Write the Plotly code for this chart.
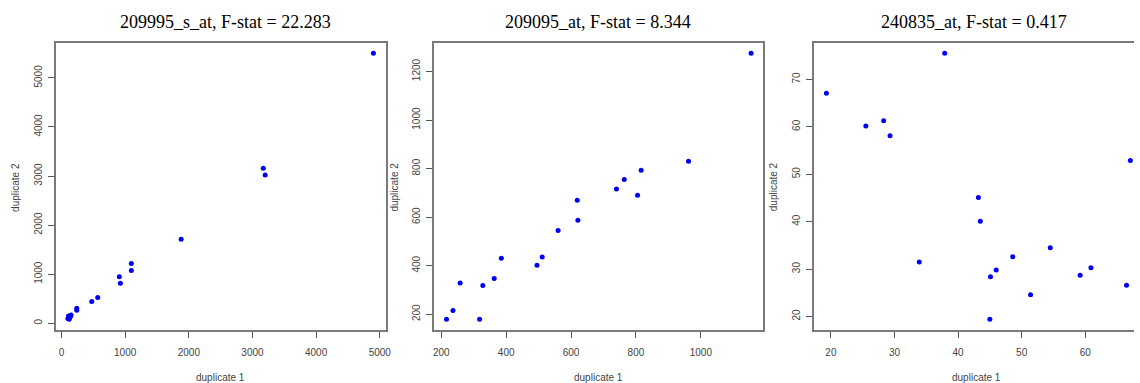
import plotly.graph_objects as go

W, H = 1140, 383

# ---------------- data ----------------
titles = ["209995_s_at, F-stat = 22.283", "209095_at, F-stat = 8.344", "240835_at, F-stat = 0.417"]

p1_x = [4900, 3170, 3200, 1880, 1097, 1097, 909, 925, 569, 475, 240, 240, 100, 130, 150, 110, 120, 140]
p1_y = [5500, 3160, 3020, 1710, 1217, 1075, 947, 818, 527, 446, 304, 265, 100, 120, 170, 150, 80, 140]

p2_x = [1155, 962, 816, 764, 740, 805, 619, 621, 560, 511, 495, 385, 363, 328, 258, 236, 216, 318]
p2_y = [1275, 830, 793, 755, 716, 690, 670, 587, 545, 436, 402, 431, 347, 319, 329, 215, 179, 179]

p3_x = [37.9, 19.3, 25.5, 28.3, 29.3, 67.1, 43.2, 43.5, 33.9, 54.5, 48.6, 46.0, 45.1, 60.9, 59.2, 51.4, 66.5, 45.0]
p3_y = [75.5, 67.1, 60.2, 61.3, 58.1, 52.9, 45.1, 40.1, 31.5, 34.5, 32.6, 29.8, 28.4, 30.3, 28.7, 24.6, 26.6, 19.4]

x_ticks = [[0, 1000, 2000, 3000, 4000, 5000], [200, 400, 600, 800, 1000], [20, 30, 40, 50, 60]]
y_ticks = [[0, 1000, 2000, 3000, 4000, 5000], [200, 400, 600, 800, 1000, 1200], [20, 30, 40, 50, 60, 70]]
x_label = "duplicate 1"
y_label = "duplicate 2"

# ---------------- layout (pixel boxes) ----------------
# (left, right, right_full) in px ; right_full = where the box would end if not cropped
boxes = [(55, 387, 387), (436, 767, 767), (818.3, 1140, 1148.6)]
top_px, bot_px = 42.7, 330
title_cx = [226, 601, 979]
xt_cx = [221, 601, 982]
yt_x = [14, 395, 777]

def rng(vals):
    lo, hi = min(vals), max(vals)
    pad = (hi - lo) * 0.04
    return lo - pad, hi + pad

fig = go.Figure()
series = [(p1_x, p1_y), (p2_x, p2_y), (p3_x, p3_y)]
axis_color = "#7a7a7a"
txt_color = "#444444"
tick_font = dict(family="Liberation Sans, Arial, sans-serif", size=10, color=txt_color)

annotations = []
for i, (xs, ys) in enumerate(series):
    n = "" if i == 0 else str(i + 1)
    fig.add_trace(go.Scatter(x=xs, y=ys, mode="markers", xaxis="x" + n, yaxis="y" + n,
                             marker=dict(color="#0000F0", size=5, line=dict(width=0)),
                             cliponaxis=False, showlegend=False, hoverinfo="skip"))
    left, right, right_full = boxes[i]
    xlo, xhi = rng(xs)
    # visible part of x range (panel may be cropped at the right edge)
    xhi_vis = xlo + (xhi - xlo) * (right - left) / (right_full - left)
    ylo, yhi = rng(ys)
    fig.layout["xaxis" + n] = dict(
        domain=[left / W, right / W], anchor="y" + n, range=[xlo, xhi_vis],
        tickmode="array", tickvals=x_ticks[i], showgrid=False, zeroline=False,
        showline=True, linecolor=axis_color, linewidth=2, mirror=True,
        ticks="outside", ticklen=6, tickwidth=1, tickcolor="#555555",
        tickfont=tick_font, ticklabelstandoff=6)
    fig.layout["yaxis" + n] = dict(
        domain=[(H - bot_px) / H, (H - top_px) / H], anchor="x" + n, range=[ylo, yhi],
        tickmode="array", tickvals=y_ticks[i], showgrid=False, zeroline=False,
        showline=True, linecolor=axis_color, linewidth=2, mirror=(i < 2),
        ticks="outside", ticklen=6, tickwidth=1, tickcolor="#555555",
        tickfont=tick_font, tickangle=-90, ticklabelstandoff=2)
    annotations.append(dict(text=titles[i], x=title_cx[i] / W, y=(H - 22) / H, xref="paper", yref="paper",
                            showarrow=False, xanchor="center", yanchor="middle",
                            font=dict(family="Liberation Serif, Times New Roman, serif", size=18, color="black")))
    annotations.append(dict(text=x_label, x=xt_cx[i] / W, y=(H - 377) / H, xref="paper", yref="paper",
                            showarrow=False, xanchor="center", yanchor="middle",
                            font=dict(family="Liberation Sans, Arial, sans-serif", size=10, color=txt_color)))
    annotations.append(dict(text=y_label, x=yt_x[i] / W, y=(H - 187) / H, xref="paper", yref="paper",
                            showarrow=False, xanchor="center", yanchor="middle", textangle=-90,
                            font=dict(family="Liberation Sans, Arial, sans-serif", size=10, color=txt_color)))

fig.update_layout(width=W, height=H, autosize=False, margin=dict(l=0, r=0, t=0, b=0),
                  paper_bgcolor="white", plot_bgcolor="white", annotations=annotations,
                  hovermode=False)

fig.write_html("out.html", config={"displayModeBar": False, "staticPlot": True},
               post_script="document.body.style.margin='0';document.body.style.overflow='hidden';")
